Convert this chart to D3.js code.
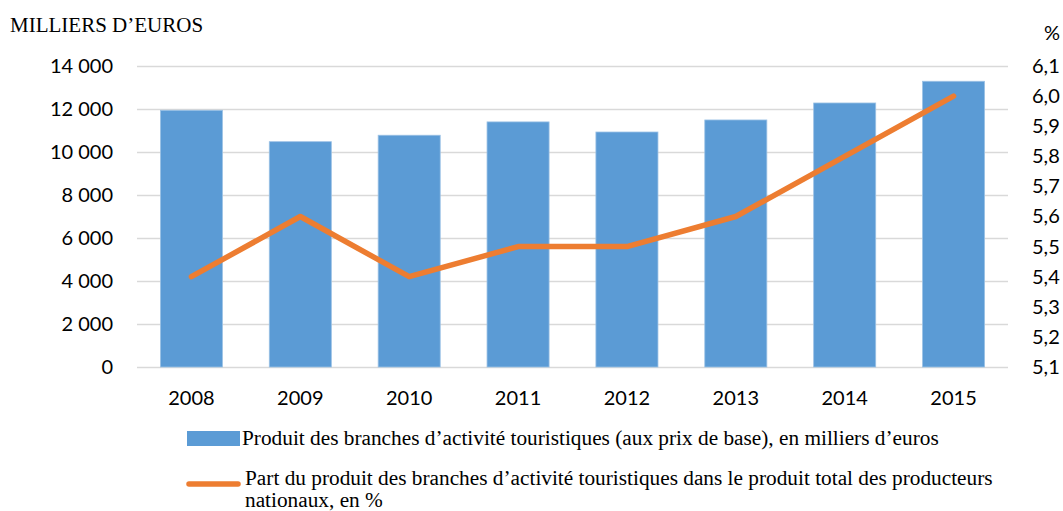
<!DOCTYPE html>
<html lang="fr">
<head>
    <meta charset="UTF-8">
    <title>Produit des branches d'activité touristiques</title>
    <script src="https://d3js.org/d3.v7.min.js"></script>
    <style>
        body { margin: 0; background: #fff; }
        .tick text { font-family: Lato, "Open Sans", sans-serif; font-size: 20px; fill: #000; }
        .serif { font-family: "Liberation Serif", "Times New Roman", serif; font-size: 21px; fill: #000; }
        .legend { font-size: 21.3px; }
    </style>
</head>
<body>
<div id="chart"></div>

<script>
    // data
    var years = ["2008", "2009", "2010", "2011", "2012", "2013", "2014", "2015"];
    var produit = [11940, 10480, 10780, 11400, 10930, 11490, 12280, 13290];
    var part = [5.4, 5.6, 5.4, 5.5, 5.5, 5.6, 5.8, 6.0];
    var leftTicks = [0, 2000, 4000, 6000, 8000, 10000, 12000, 14000];
    var rightTicks = [5.1, 5.2, 5.3, 5.4, 5.5, 5.6, 5.7, 5.8, 5.9, 6.0, 6.1];

    var w = 1063;
    var h = 511;
    var pLeft = 137, pRight = 1008, pTop = 66, pBottom = 367;

    var fr = d3.formatLocale({ decimal: ",", thousands: "\u00a0", grouping: [3], currency: ["", " €"] });

    var svg = d3.select("#chart")
                .append("svg")
                .attr("width", w)
                .attr("height", h);

    var x = d3.scaleBand()
              .domain(years)
              .range([pLeft, pRight])
              .paddingInner(0.43)
              .paddingOuter(0.215);

    var y = d3.scaleLinear().domain([0, 14000]).range([pBottom, pTop]);
    var y2 = d3.scaleLinear().domain([5.1, 6.1]).range([pBottom, pTop]);

    // left axis + gridlines
    var gy = svg.append("g")
        .attr("transform", "translate(" + pLeft + ",0)")
        .call(d3.axisLeft(y)
                .tickValues(leftTicks)
                .tickSize(-(pRight - pLeft))
                .tickPadding(24)
                .tickFormat(fr.format(",d")));
    gy.select(".domain").remove();
    gy.selectAll(".tick line").attr("stroke", "#d9d9d9").attr("stroke-width", 1.5);

    // right axis
    var gy2 = svg.append("g")
        .attr("transform", "translate(" + pRight + ",0)")
        .call(d3.axisRight(y2)
                .tickValues(rightTicks)
                .tickSize(0)
                .tickPadding(24)
                .tickFormat(fr.format(".1f")));
    gy2.select(".domain").remove();

    // years
    var gx = svg.append("g")
        .attr("transform", "translate(0," + pBottom + ")")
        .call(d3.axisBottom(x).tickSize(0).tickPadding(24));
    gx.select(".domain").remove();

    // bars
    svg.selectAll("rect.bar")
       .data(produit)
       .enter()
       .append("rect")
       .attr("class", "bar")
       .attr("x", function(d, i) { return x(years[i]); })
       .attr("y", function(d) { return y(d); })
       .attr("width", x.bandwidth())
       .attr("height", function(d) { return pBottom - y(d); })
       .attr("fill", "#5b9bd5")
       .attr("stroke", "#9cc2e5")
       .attr("stroke-width", 0.8);

    // line
    var line = d3.line()
                 .x(function(d, i) { return x(years[i]) + x.bandwidth() / 2; })
                 .y(function(d) { return y2(d); });

    svg.append("path")
       .datum(part)
       .attr("d", line)
       .attr("fill", "none")
       .attr("stroke", "#ed7d31")
       .attr("stroke-width", 5.5)
       .attr("stroke-linecap", "round")
       .attr("stroke-linejoin", "round");

    // axis titles
    svg.append("text")
       .attr("class", "serif")
       .attr("x", 10)
       .attr("y", 32)
       .text("MILLIERS D’EUROS");

    svg.append("text")
       .attr("x", 1060)
       .attr("y", 40)
       .attr("text-anchor", "end")
       .style("font-family", "Lato, sans-serif")
       .style("font-size", "20px")
       .text("%");

    // legend
    svg.append("rect")
       .attr("x", 187)
       .attr("y", 431)
       .attr("width", 53)
       .attr("height", 15)
       .attr("fill", "#5b9bd5");

    svg.append("text")
       .attr("class", "serif legend")
       .attr("x", 242)
       .attr("y", 445)
       .text("Produit des branches d’activité touristiques (aux prix de base), en milliers d’euros");

    svg.append("line")
       .attr("x1", 189)
       .attr("x2", 238)
       .attr("y1", 484)
       .attr("y2", 484)
       .attr("stroke", "#ed7d31")
       .attr("stroke-width", 5.5)
       .attr("stroke-linecap", "round");

    var t2 = svg.append("text")
       .attr("class", "serif legend")
       .attr("x", 245)
       .attr("y", 485);
    t2.append("tspan")
      .attr("x", 245)
      .text("Part du produit des branches d’activité touristiques dans le produit total des producteurs");
    t2.append("tspan")
      .attr("x", 245)
      .attr("dy", 22)
      .text("nationaux, en %");
</script>
</body>
</html>
